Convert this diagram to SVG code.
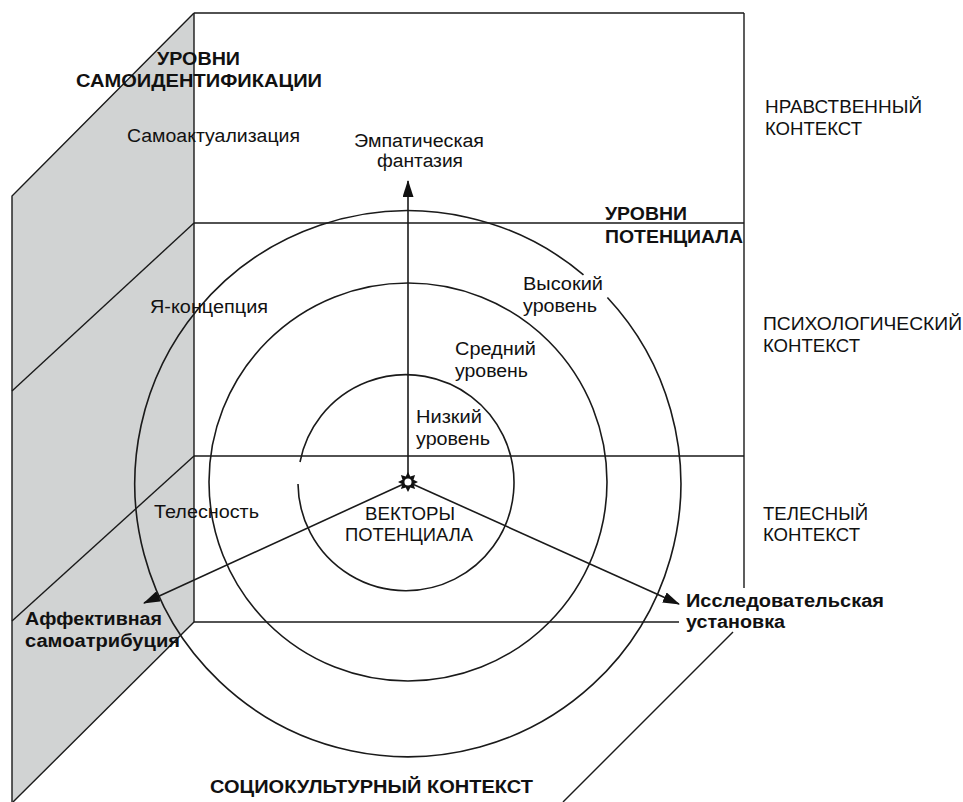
<svg xmlns="http://www.w3.org/2000/svg" width="963" height="802" viewBox="0 0 963 802">
<defs>
<style>
.ln{stroke:#1a1a1a;stroke-width:1.4;fill:none}
.cr{stroke:#1a1a1a;stroke-width:1.6;fill:none}
.ar{stroke:#1a1a1a;stroke-width:1.6;fill:none}
text{font-family:"Liberation Sans",Arial,sans-serif;font-size:18px;fill:#111}
.b{font-weight:bold}
</style>
<marker id="ah" markerUnits="userSpaceOnUse" markerWidth="17" markerHeight="11" refX="16" refY="5.5" orient="auto">
<path d="M0,0 L17,5.5 L0,11 Z" fill="#111"/>
</marker>
</defs>
<rect width="963" height="802" fill="#fff"/>

<g id="self-identification-panel">
<polygon points="194,13 12,196 12,803 194,622" fill="#d1d3d3"/>
<path class="ln" d="M194,13 L12,196 L12,802"/>
<path class="ln" d="M194,622 L13,802"/>
<path class="ln" d="M194,223 L12,391"/>
<path class="ln" d="M194,456 L12,621"/>
</g>

<g id="frame">
<path class="ln" d="M194,13 L744,13 M194,13 L194,622 M744,13 L744,588"/>
<path class="ln" d="M194,223 L744,223 M194,456 L744,456"/>
<path class="ln" d="M194,622 L679,622"/>
<path class="ln" d="M733,632 L563,802"/>
</g>

<g id="circles">
<path class="cr" d="M298,484 A108,108 0 1 0 300,462"/>
<circle class="cr" cx="408" cy="482" r="199"/>
<path class="cr" d="M607.4,297.5 A273,273 0 1 1 583.5,274.8"/>
</g>

<g id="connectors">
<line class="ar" x1="408" y1="482" x2="408" y2="181" marker-end="url(#ah)"/>
<line class="ar" x1="408" y1="482" x2="144" y2="603" marker-end="url(#ah)"/>
<line class="ar" x1="408" y1="482" x2="679" y2="604" marker-end="url(#ah)"/>
</g>

<g id="vectors-origin">
<polygon fill="#111" points="408,472 410.3,476.5 415.1,474.9 413.5,479.7 418,482 413.5,484.3 415.1,489.1 410.3,487.5 408,492 405.7,487.5 400.9,489.1 402.5,484.3 398,482 402.5,479.7 400.9,474.9 405.7,476.5"/>
<circle cx="408" cy="482" r="4.3" fill="#fff" stroke="#111" stroke-width="1.5"/>
</g>

<g id="label-self-identification-levels">
<text class="b" x="157" y="65" textLength="83" lengthAdjust="spacingAndGlyphs">УРОВНИ</text>
<text class="b" x="76" y="87" textLength="246" lengthAdjust="spacingAndGlyphs">САМОИДЕНТИФИКАЦИИ</text>
</g>
<g id="label-self-actualization"><text x="127" y="142" textLength="173" lengthAdjust="spacingAndGlyphs">Самоактуализация</text></g>
<g id="label-self-concept"><text x="150" y="313" textLength="118" lengthAdjust="spacingAndGlyphs">Я-концепция</text></g>
<g id="label-corporeality"><text x="154" y="518" textLength="105" lengthAdjust="spacingAndGlyphs">Телесность</text></g>

<g id="label-empathic-fantasy">
<text x="354" y="147" textLength="130" lengthAdjust="spacingAndGlyphs">Эмпатическая</text>
<text x="377" y="167" textLength="86" lengthAdjust="spacingAndGlyphs">фантазия</text>
</g>

<g id="label-potential-levels">
<text class="b" x="605" y="220" textLength="82" lengthAdjust="spacingAndGlyphs">УРОВНИ</text>
<text class="b" x="605" y="243" textLength="138" lengthAdjust="spacingAndGlyphs">ПОТЕНЦИАЛА</text>
</g>

<g id="label-high-level">
<text x="523" y="290" textLength="80" lengthAdjust="spacingAndGlyphs">Высокий</text>
<text x="523" y="312" textLength="74" lengthAdjust="spacingAndGlyphs">уровень</text>
</g>
<g id="label-middle-level">
<text x="455" y="355" textLength="81" lengthAdjust="spacingAndGlyphs">Средний</text>
<text x="455" y="377" textLength="73" lengthAdjust="spacingAndGlyphs">уровень</text>
</g>
<g id="label-low-level">
<text x="416" y="423" textLength="66" lengthAdjust="spacingAndGlyphs">Низкий</text>
<text x="416" y="445" textLength="74" lengthAdjust="spacingAndGlyphs">уровень</text>
</g>

<g id="label-potential-vectors">
<text x="365" y="520" textLength="90" lengthAdjust="spacingAndGlyphs">ВЕКТОРЫ</text>
<text x="345" y="541" textLength="128" lengthAdjust="spacingAndGlyphs">ПОТЕНЦИАЛА</text>
</g>

<g id="label-moral-context">
<text x="765" y="113" textLength="157" lengthAdjust="spacingAndGlyphs">НРАВСТВЕННЫЙ</text>
<text x="765" y="135" textLength="97" lengthAdjust="spacingAndGlyphs">КОНТЕКСТ</text>
</g>
<g id="label-psychological-context">
<text x="763" y="330" textLength="199" lengthAdjust="spacingAndGlyphs">ПСИХОЛОГИЧЕСКИЙ</text>
<text x="763" y="352" textLength="97" lengthAdjust="spacingAndGlyphs">КОНТЕКСТ</text>
</g>
<g id="label-bodily-context">
<text x="763" y="520" textLength="105" lengthAdjust="spacingAndGlyphs">ТЕЛЕСНЫЙ</text>
<text x="763" y="541" textLength="97" lengthAdjust="spacingAndGlyphs">КОНТЕКСТ</text>
</g>

<g id="label-affective-self-attribution">
<text class="b" x="25" y="625" textLength="137" lengthAdjust="spacingAndGlyphs">Аффективная</text>
<text class="b" x="25" y="647" textLength="155" lengthAdjust="spacingAndGlyphs">самоатрибуция</text>
</g>
<g id="label-exploratory-attitude">
<text class="b" x="686" y="607" textLength="198" lengthAdjust="spacingAndGlyphs">Исследовательская</text>
<text class="b" x="686" y="628" textLength="99" lengthAdjust="spacingAndGlyphs">установка</text>
</g>
<g id="label-sociocultural-context">
<text class="b" x="210" y="793" textLength="323" lengthAdjust="spacingAndGlyphs">СОЦИОКУЛЬТУРНЫЙ КОНТЕКСТ</text>
</g>
</svg>
